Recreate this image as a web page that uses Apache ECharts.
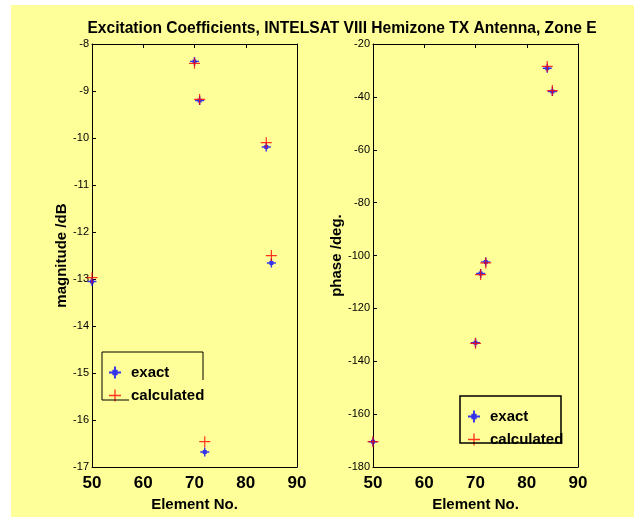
<!DOCTYPE html>
<html>
<head>
<meta charset="utf-8">
<script src="https://cdn.jsdelivr.net/npm/echarts@6/dist/echarts.min.js"></script>
<style>
html,body{margin:0;padding:0;background:#ffffff;}
#chart{width:634px;height:517px;}
</style>
</head>
<body>
<div id="chart"></div>
<script>
// ---- data ----
const elements   = [50, 70, 71, 72, 84, 85];
const magExact   = [-13.05, -8.37, -9.20, -16.68, -10.19, -12.66];
const magCalc    = [-12.97, -8.41, -9.18, -16.46, -10.10, -12.50];
const phaseExact = [-170.4, -133.0, -106.8, -102.4, -29.2, -38.0];
const phaseCalc  = [-170.4, -133.2, -107.2, -102.8, -28.5, -37.6];
const seriesNames = ['exact', 'calculated'];
const titleText = 'Excitation Coefficients, INTELSAT VIII Hemizone TX Antenna, Zone E';

const FONT = '"Liberation Sans", Arial, sans-serif';
const BG = '#FFFF99';
const starPath = 'path://M4.2,0 L5.8,0 L5.8,4.2 L10,4.2 L10,5.8 L5.8,5.8 L5.8,10 L4.2,10 L4.2,5.8 L0,5.8 L0,4.2 L4.2,4.2 Z M2.8,2.8 L7.2,2.8 L7.2,7.2 L2.8,7.2 Z';
const plusPath = 'path://M4.45,0 L5.55,0 L5.55,4.45 L10,4.45 L10,5.55 L5.55,5.55 L5.55,10 L4.45,10 L4.45,5.55 L0,5.55 L0,4.45 L4.45,4.45 Z';

const pairs = (xs, ys) => xs.map((x, i) => [x, ys[i]]);

function xAxes(gi) {
  return [{
    type: 'value', gridIndex: gi, min: 50, max: 90, interval: 10,
    name: 'Element No.', nameLocation: 'middle', nameGap: 27,
    nameTextStyle: {fontFamily: FONT, fontWeight: 'bold', fontSize: 15, color: '#000'},
    axisLine: {show: true, lineStyle: {color: '#000', width: 1}},
    axisTick: {show: false},
    axisLabel: {fontFamily: FONT, fontWeight: 'bold', fontSize: 17, color: '#000', margin: 8},
    splitLine: {show: false}
  }, {
    type: 'value', gridIndex: gi, position: 'top', min: 50, max: 90, interval: 10,
    axisLine: {show: true, lineStyle: {color: '#000', width: 1}},
    axisTick: {show: true, inside: true, length: 4, lineStyle: {color: '#000'}},
    axisLabel: {show: false}, splitLine: {show: false}
  }];
}
function yAxes(gi, min, max, interval, name, gap) {
  return [{
    type: 'value', gridIndex: gi, min: min, max: max, interval: interval,
    name: name, nameLocation: 'middle', nameGap: gap, nameRotate: 90,
    nameTextStyle: {fontFamily: FONT, fontWeight: 'bold', fontSize: 15, color: '#000'},
    axisLine: {show: true, lineStyle: {color: '#000', width: 1}},
    axisTick: {show: true, inside: true, length: 4, lineStyle: {color: '#000'}},
    axisLabel: {fontFamily: FONT, fontSize: 11, color: '#000', margin: 3},
    splitLine: {show: false}
  }, {
    type: 'value', gridIndex: gi, position: 'right', min: min, max: max, interval: interval,
    axisLine: {show: true, lineStyle: {color: '#000', width: 1}},
    axisTick: {show: false},
    axisLabel: {show: false}, splitLine: {show: false}
  }];
}

const xs = [...xAxes(0), ...xAxes(1)];
const ys = [...yAxes(0, -17, -8, 1, 'magnitude /dB', 21), ...yAxes(1, -180, -20, 20, 'phase /deg.', 27)];

function sc(name, xi, yi, data) {
  const exact = name === 'exact';
  return {
    name: name, type: 'scatter', xAxisIndex: xi, yAxisIndex: yi, data: data,
    symbol: exact ? starPath : plusPath, symbolSize: exact ? 9 : 11,
    itemStyle: {color: exact ? '#0000FF' : '#FF0000'},
    clip: false, silent: true
  };
}

const legendBase = {
  orient: 'vertical', itemWidth: 12, itemHeight: 12, itemGap: 8,
  textStyle: {fontFamily: FONT, fontWeight: 'bold', fontSize: 15, color: '#000', padding: [0, 0, 0, 5]},
  selectedMode: false,
  data: [
    {name: seriesNames[0], icon: starPath, itemStyle: {color: '#0000FF'}},
    {name: seriesNames[1], icon: plusPath, itemStyle: {color: '#FF0000'}}
  ]
};

const option = {
  animation: false,
  backgroundColor: 'transparent',
  title: {
    text: titleText, left: 337, textAlign: 'center', top: 16,
    textStyle: {fontFamily: FONT, fontWeight: 'bold', fontSize: 15.6, color: '#000'}
  },
  graphic: [
    {type: 'rect', z: -10, silent: true, shape: {x: 11, y: 5, width: 623, height: 512}, style: {fill: BG}},
    {type: 'polyline', z: 5, silent: true, shape: {points: [[129, 400], [102, 400], [102, 352], [203, 352], [203, 380]]}, style: {stroke: '#000', lineWidth: 1, fill: null}},
    {type: 'rect', z: 5, silent: true, shape: {x: 460, y: 396, width: 101, height: 47}, style: {stroke: '#000', lineWidth: 1.5, fill: null}}
  ],
  grid: [
    {left: 92, top: 44, width: 205, height: 424},
    {left: 373, top: 44, width: 205, height: 424}
  ],
  xAxis: xs,
  yAxis: ys,
  legend: [
    Object.assign({}, legendBase, {left: 104, top: 360}),
    Object.assign({}, legendBase, {left: 463, top: 404})
  ],
  series: [
    sc(seriesNames[0], 0, 0, pairs(elements, magExact)),
    sc(seriesNames[1], 0, 0, pairs(elements, magCalc)),
    sc(seriesNames[0], 2, 2, pairs(elements, phaseExact)),
    sc(seriesNames[1], 2, 2, pairs(elements, phaseCalc))
  ]
};

const chart = echarts.init(document.getElementById('chart'), null, {renderer: 'canvas'});
chart.setOption(option);
</script>
</body>
</html>
